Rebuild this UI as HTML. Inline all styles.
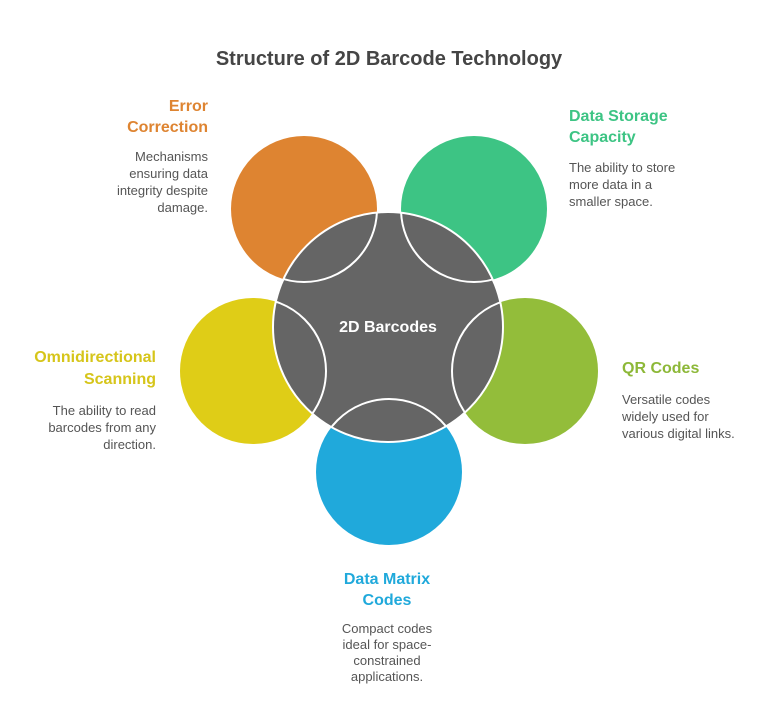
<!DOCTYPE html>
<html><head><meta charset="utf-8"><style>
html,body{margin:0;padding:0;background:#fff;}
svg{display:block;font-family:"Liberation Sans",sans-serif;}
.h{font-weight:bold;font-size:16px;}
.d{font-size:13px;fill:#555;}
</style></head><body>
<svg width="768" height="725" viewBox="0 0 768 725">
<text x="389" y="65" text-anchor="middle" font-size="20" font-weight="bold" fill="#454545">Structure of 2D Barcode Technology</text>
<circle cx="304" cy="209" r="73" fill="#de8431"/>
<circle cx="474" cy="209" r="73" fill="#3dc484"/>
<circle cx="525" cy="371" r="73" fill="#93bd3a"/>
<circle cx="389" cy="472" r="73" fill="#20a9db"/>
<circle cx="253" cy="371" r="73" fill="#dfcd17"/>
<circle cx="388" cy="327" r="115" fill="#656565" stroke="#fff" stroke-width="2"/>
<clipPath id="c"><circle cx="388" cy="327" r="115"/></clipPath>
<g clip-path="url(#c)" fill="none" stroke="#fff" stroke-width="2">
<circle cx="304" cy="209" r="73"/><circle cx="474" cy="209" r="73"/><circle cx="525" cy="371" r="73"/><circle cx="389" cy="472" r="73"/><circle cx="253" cy="371" r="73"/>
</g>
<text x="388" y="332" text-anchor="middle" font-size="16" font-weight="bold" fill="#fff">2D Barcodes</text>
<g text-anchor="end">
<text class="h" fill="#de8431"><tspan x="208" y="111">Error</tspan><tspan x="208" y="132">Correction</tspan></text>
<text class="d"><tspan x="208" y="161">Mechanisms</tspan><tspan x="208" y="178">ensuring data</tspan><tspan x="208" y="195">integrity despite</tspan><tspan x="208" y="212">damage.</tspan></text>
<text class="h" fill="#d6c51a"><tspan x="156" y="362">Omnidirectional</tspan><tspan x="156" y="384">Scanning</tspan></text>
<text class="d"><tspan x="156" y="415">The ability to read</tspan><tspan x="156" y="432">barcodes from any</tspan><tspan x="156" y="449">direction.</tspan></text>
</g>
<text class="h" fill="#3dc484"><tspan x="569" y="121">Data Storage</tspan><tspan x="569" y="142">Capacity</tspan></text>
<text class="d"><tspan x="569" y="172">The ability to store</tspan><tspan x="569" y="189">more data in a</tspan><tspan x="569" y="206">smaller space.</tspan></text>
<text class="h" fill="#8db838"><tspan x="622" y="373">QR Codes</tspan></text>
<text class="d"><tspan x="622" y="404">Versatile codes</tspan><tspan x="622" y="421">widely used for</tspan><tspan x="622" y="438">various digital links.</tspan></text>
<g text-anchor="middle">
<text class="h" fill="#20a9db"><tspan x="387" y="584">Data Matrix</tspan><tspan x="387" y="605">Codes</tspan></text>
<text class="d"><tspan x="387" y="633">Compact codes</tspan><tspan x="387" y="649">ideal for space-</tspan><tspan x="387" y="665">constrained</tspan><tspan x="387" y="681">applications.</tspan></text>
</g>
</svg>
</body></html>
